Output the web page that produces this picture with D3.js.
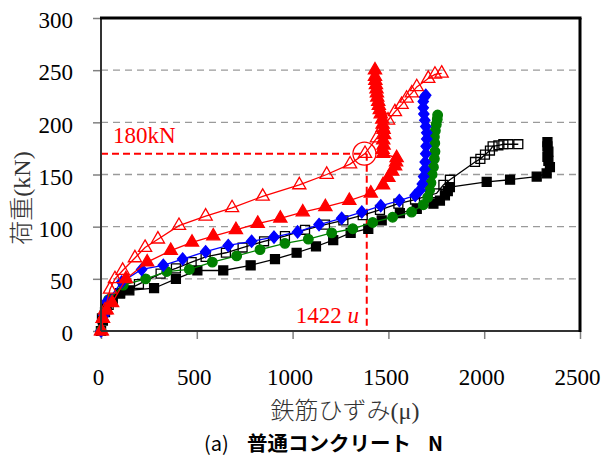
<!DOCTYPE html>
<html lang="ja">
<head>
  <meta charset="utf-8">
  <title>荷重-鉄筋ひずみ</title>
  <script src="https://d3js.org/d3.v7.min.js"></script>
  <style type="text/css">
    body { margin: 0; background: #fff; }
  </style>
</head>
<body>
  <script type="text/javascript">

// series values [strain (μ), load (kN)]
const redOpen = [[4,0],[9,12],[21,20],[47,40],[73,50],[113,58],[177,70],[230,80],[297,88],[407,101],[546,110],[684,118],[844,129],[1035,140],[1178,150],[1300,160],[1378,170],[1440,185],[1470,195],[1498,202],[1534,210],[1569,217],[1595,223],[1622,228],[1648,234],[1708,242],[1743,246],[1778,247]];
const redFilled = [[0,0],[10,12],[30,20],[58,27],[130,50],[241,66],[364,77],[475,85],[586,91],[704,97],[818,103],[936,108],[1053,114],[1171,119],[1296,125],[1408,132],[1472,140],[1500,147],[1520,153],[1535,158],[1540,162],[1543,166],[1473,170],[1470,174],[1475,178],[1473,183],[1478,188],[1475,193],[1470,198],[1468,203],[1460,208],[1455,212],[1450,216],[1447,220],[1442,224],[1440,228],[1438,232],[1435,236],[1432,240],[1430,244],[1430,250]];
const blueDiamond = [[0,0],[15,15],[30,28],[108,47],[212,59],[325,63],[426,69],[546,76],[664,82],[786,86],[903,90],[1026,95],[1138,102],[1256,108],[1361,114],[1460,120],[1557,125],[1640,130],[1665,135],[1677,141],[1684,148],[1690,155],[1692,162],[1695,170],[1697,177],[1700,184],[1700,190],[1695,196],[1690,202],[1685,208],[1682,214],[1682,220],[1688,224],[1695,226]];
const greenCircle = [[0,0],[20,18],[40,30],[116,44],[233,50],[343,57],[461,59],[581,66],[708,72],[830,78],[960,84],[1082,88],[1204,94],[1314,98],[1418,104],[1522,109],[1621,114],[1682,121],[1705,128],[1715,135],[1722,142],[1728,150],[1735,157],[1740,165],[1743,172],[1742,180],[1740,186],[1745,192],[1750,198],[1755,203],[1757,207]];
const blackOpen = [[0,0],[5,12],[21,18],[40,25],[61,31],[99,36],[198,45],[311,55],[391,60],[473,66],[546,71],[652,75],[739,80],[851,86],[960,91],[1065,97],[1169,102],[1265,106],[1366,111],[1456,116],[1552,122],[1639,126],[1752,132],[1787,140],[1821,145],[1952,162],[1980,165],[2004,169],[2030,173],[2044,177],[2074,178],[2100,179],[2126,179],[2178,179]];
const blackFilled = [[0,0],[10,10],[30,22],[60,30],[100,36],[148,39],[277,41],[391,50],[503,58],[638,58],[781,63],[908,69],[1021,75],[1122,81],[1212,87],[1303,94],[1395,98],[1465,106],[1560,113],[1648,117],[1735,122],[1769,125],[1795,130],[1810,134],[1821,138],[2013,143],[2135,145],[2274,148],[2326,151],[2343,157],[2335,163],[2330,167],[2335,172],[2330,177],[2330,181]];

const xTicks = [0, 500, 1000, 1500, 2000, 2500];
const yTicks = [0, 50, 100, 150, 200, 250, 300];
const loadMark = 170;     // 180kN line
const strainMark = 1387;  // 1422 u line

const width = 605, height = 459;
const pLeft = 101, pRight = 580, pTop = 18, pBottom = 331;

const svg = d3.select("body").append("svg")
    .attr("width", width)
    .attr("height", height);

const x = d3.scaleLinear().domain([0, 2500]).range([pLeft, pRight]);
const y = d3.scaleLinear().domain([0, 300]).range([pBottom, pTop]);

// grid
svg.append("g").selectAll("line")
  .data(yTicks.filter(d => d > 0 && d < 300))
  .enter().append("line")
    .attr("x1", pLeft).attr("x2", pRight)
    .attr("y1", d => y(d)).attr("y2", d => y(d))
    .attr("stroke", "#9a9a9a")
    .attr("stroke-width", 1.3)
    .attr("stroke-dasharray", "7,5");

// axes
const serif = "'Liberation Serif', 'Times New Roman', serif";
const xAxis = svg.append("g")
    .attr("transform", `translate(0,${pBottom})`)
    .call(d3.axisBottom(x).tickValues(xTicks).tickFormat(d3.format("d")).tickSize(8).tickPadding(30));
const yAxis = svg.append("g")
    .attr("transform", `translate(${pLeft},0)`)
    .call(d3.axisLeft(y).tickValues(yTicks).tickFormat(d3.format("d")).tickSize(8).tickPadding(20));
[xAxis, yAxis].forEach(g => {
  g.attr("font-family", null).attr("font-size", null);
  g.select(".domain").remove();
  g.selectAll(".tick line").attr("stroke", "#808080").attr("stroke-width", 1.5);
  g.selectAll(".tick text")
    .style("font-family", serif)
    .style("font-size", "23px")
    .attr("fill", "#000");
});
xAxis.selectAll(".tick text").attr("dx", -3);
yAxis.selectAll(".tick text").attr("dy", "0.42em");

// annotation lines
const red = "#ff0000";
svg.append("line")
    .attr("x1", pLeft).attr("x2", x(strainMark))
    .attr("y1", y(loadMark)).attr("y2", y(loadMark))
    .attr("stroke", red).attr("stroke-width", 2).attr("stroke-dasharray", "7,4");
svg.append("line")
    .attr("x1", x(strainMark)).attr("x2", x(strainMark))
    .attr("y1", y(loadMark)).attr("y2", pBottom)
    .attr("stroke", red).attr("stroke-width", 2).attr("stroke-dasharray", "7,4");

// series
const diamond = {
  draw(ctx, size) {
    const h = Math.sqrt(size) * 0.62, w = h * 0.85;
    ctx.moveTo(0, -h); ctx.lineTo(w, 0); ctx.lineTo(0, h); ctx.lineTo(-w, 0); ctx.closePath();
  }
};
const series = [
  {data: blackFilled, color: "#000", shape: d3.symbolSquare, size: 80, fill: true},
  {data: blackOpen, color: "#000", shape: d3.symbolSquare, size: 80, fill: false},
  {data: greenCircle, color: "#008000", shape: d3.symbolCircle, size: 72, fill: true},
  {data: blueDiamond, color: "#0000ff", shape: diamond, size: 95, fill: true},
  {data: redFilled, color: red, shape: d3.symbolTriangle, size: 75, fill: true},
  {data: redOpen, color: red, shape: d3.symbolTriangle, size: 75, fill: false}
];

const line = d3.line().x(d => x(d[0])).y(d => y(d[1]));

series.forEach(s => {
  const g = svg.append("g");
  g.append("path")
    .attr("d", line(s.data))
    .attr("fill", "none")
    .attr("stroke", s.color)
    .attr("stroke-width", 1.3);
  g.selectAll("path.pt")
    .data(s.data)
    .enter().append("path")
      .attr("class", "pt")
      .attr("transform", d => `translate(${x(d[0])},${y(d[1])})`)
      .attr("d", d3.symbol().type(s.shape).size(s.size))
      .attr("fill", s.fill ? s.color : "#fff")
      .attr("fill-opacity", s.fill ? 1 : 0)
      .attr("stroke", s.color)
      .attr("stroke-width", 1.3);
});

// circle mark
svg.append("circle")
    .attr("cx", x(1375)).attr("cy", y(loadMark))
    .attr("r", 11.5)
    .attr("fill", "none")
    .attr("stroke", red)
    .attr("stroke-width", 1.3);

// frame
svg.append("line").attr("x1", pLeft).attr("x2", pLeft).attr("y1", pTop).attr("y2", pBottom)
    .attr("stroke", "#333").attr("stroke-width", 2);
svg.append("line").attr("x1", pLeft).attr("x2", pRight).attr("y1", pBottom).attr("y2", pBottom)
    .attr("stroke", "#333").attr("stroke-width", 2);
svg.append("line").attr("x1", pLeft - 1).attr("x2", pRight + 1.5).attr("y1", pTop).attr("y2", pTop)
    .attr("stroke", "#000").attr("stroke-width", 3);
svg.append("line").attr("x1", pRight).attr("x2", pRight).attr("y1", pTop).attr("y2", pBottom + 1)
    .attr("stroke", "#000").attr("stroke-width", 3);

// labels
svg.append("text")
    .attr("x", 113).attr("y", 143)
    .style("font-family", serif).style("font-size", "23px")
    .attr("fill", red)
    .text("180kN");

const mu = svg.append("text")
    .attr("x", 359).attr("y", 323)
    .attr("text-anchor", "end")
    .style("font-family", serif).style("font-size", "23px")
    .attr("fill", red);
mu.append("tspan").text("1422 ");
mu.append("tspan").attr("font-style", "italic").text("u");

svg.append("text")
    .attr("x", 345).attr("y", 419)
    .attr("text-anchor", "middle")
    .style("font-family", "'Liberation Serif', 'Noto Sans CJK JP', serif")
    .style("font-size", "24px")
    .style("font-weight", 300)
    .attr("fill", "#333")
    .text("鉄筋ひずみ(μ)");

svg.append("text")
    .attr("transform", "translate(30,198) rotate(-90)")
    .attr("text-anchor", "middle")
    .style("font-family", "'Liberation Serif', 'Noto Sans CJK JP', serif")
    .style("font-size", "24px")
    .style("font-weight", 300)
    .attr("fill", "#333")
    .text("荷重(kN)");

const cap = svg.append("text")
    .attr("y", 451)
    .style("font-family", "'Noto Sans CJK JP', sans-serif")
    .style("font-size", "20px")
    .attr("fill", "#000");
cap.append("tspan").attr("x", 204).text("(a)");
cap.append("tspan").attr("x", 247).style("font-weight", "bold").style("font-size", "20.5px").text("普通コンクリート");
cap.append("tspan").attr("x", 428).style("font-weight", "bold").text("N");

  </script>
</body>
</html>
